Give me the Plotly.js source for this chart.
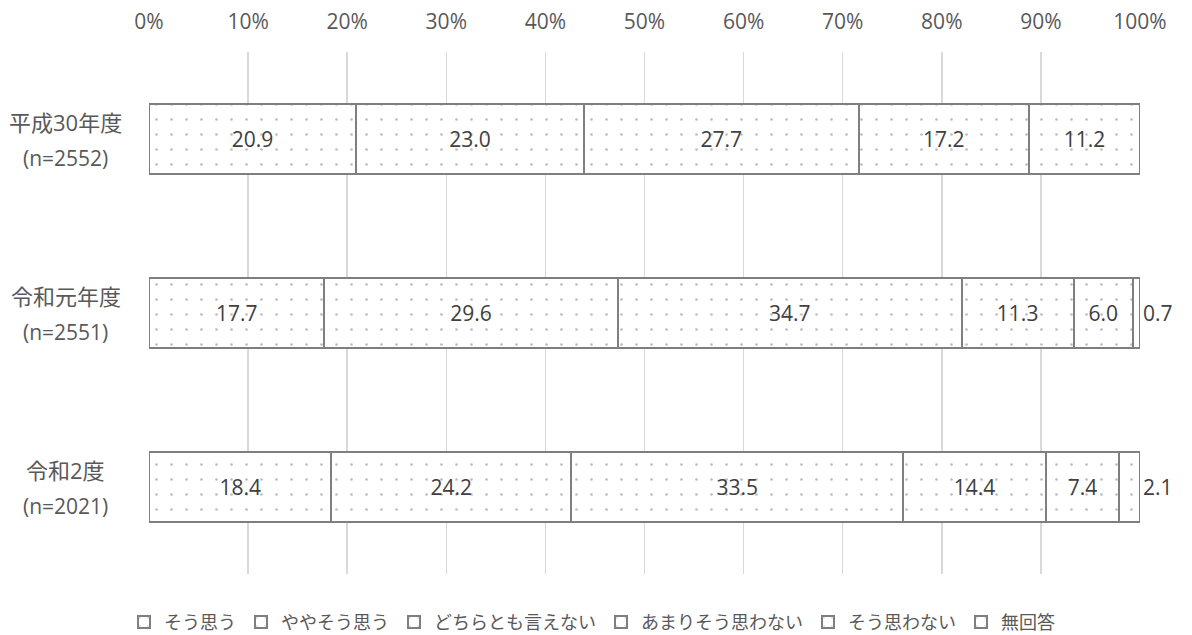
<!DOCTYPE html>
<html>
<head>
<meta charset="utf-8">
<script src="https://cdn.plot.ly/plotly-3.0.1.min.js"></script>
<style>html,body{margin:0;padding:0;background:#fff;}#chart{width:1192px;height:635px;}</style>
</head>
<body>
<div id="chart"></div>
<script>
const categories = ["平成30年度", "令和元年度", "令和2度"];
const sampleSizes = ["(n=2552)", "(n=2551)", "(n=2021)"];
const seriesNames = ["そう思う", "ややそう思う", "どちらとも言えない", "あまりそう思わない", "そう思わない", "無回答"];
const s1 = [20.9, 17.7, 18.4];
const s2 = [23.0, 29.6, 24.2];
const s3 = [27.7, 34.7, 33.5];
const s4 = [17.2, 11.3, 14.4];
const s5 = [11.2, 6.0, 7.4];
const s6 = [null, 0.7, 2.1];
const xTickVals = [0, 10, 20, 30, 40, 50, 60, 70, 80, 90, 100];
const xTickText = ["0%", "10%", "20%", "30%", "40%", "50%", "60%", "70%", "80%", "90%", "100%"];

const allSeries = [s1, s2, s3, s4, s5, s6];
const FONT = "Open Sans, Noto Sans CJK JP, sans-serif";
const traces = allSeries.map((vals, i) => {
  const last = i === allSeries.length - 1;
  return {
    type: "bar",
    orientation: "h",
    name: seriesNames[i],
    y: categories,
    x: vals,
    text: vals.map(v => v == null ? "" : v.toFixed(1)),
    textposition: last ? "outside" : "inside",
    insidetextanchor: "middle",
    textangle: 0,
    constraintext: "none",
    cliponaxis: false,
    textfont: {family: FONT, size: 21, color: "#404040"},
    hoverinfo: "none",
    marker: {
      color: "#ffffff",
      line: {color: "#7f7f7f", width: 2},
      pattern: {shape: ".", fgcolor: "#7a7a7a", bgcolor: "#ffffff", size: 15, solidity: 0.025, fillmode: "overlay"}
    }
  };
});

const annotations = [];
categories.forEach((c, i) => {
  annotations.push({xref: "paper", yref: "y", x: -0.084, y: c, text: c, showarrow: false,
    xanchor: "center", yanchor: "middle", yshift: 17,
    font: {family: FONT, size: 22, color: "#595959"}});
  annotations.push({xref: "paper", yref: "y", x: -0.084, y: c, text: sampleSizes[i], showarrow: false,
    xanchor: "center", yanchor: "middle", yshift: -19,
    font: {family: FONT, size: 21, color: "#595959"}});
});

const layout = {
  width: 1192, height: 635,
  margin: {l: 149, r: 52, t: 52, b: 61, autoexpand: false},
  paper_bgcolor: "#ffffff", plot_bgcolor: "#ffffff",
  barmode: "stack",
  bargap: 0.6,
  font: {family: FONT, size: 16, color: "#595959"},
  xaxis: {
    side: "top", range: [0, 100], tickvals: xTickVals, ticktext: xTickText,
    showgrid: true, gridcolor: "#d9d9d9", gridwidth: 1.5, zeroline: false,
    showline: false, ticks: "", ticklen: 0, fixedrange: true, ticklabelstandoff: 18,
    tickfont: {family: FONT, size: 21, color: "#595959"}
  },
  yaxis: {
    autorange: "reversed", showgrid: false, zeroline: false, showline: false,
    ticks: "", showticklabels: false
  },
  annotations: annotations,
  showlegend: true,
  legend: {
    orientation: "h", x: 0.447, xanchor: "center", yref: "container", y: 0.02, yanchor: "middle",
    font: {family: FONT, size: 18, color: "#595959"},
    itemwidth: 30, traceorder: "normal"
  }
};

Plotly.newPlot("chart", traces, layout, {displayModeBar: false, staticPlot: true});
</script>
</body>
</html>
